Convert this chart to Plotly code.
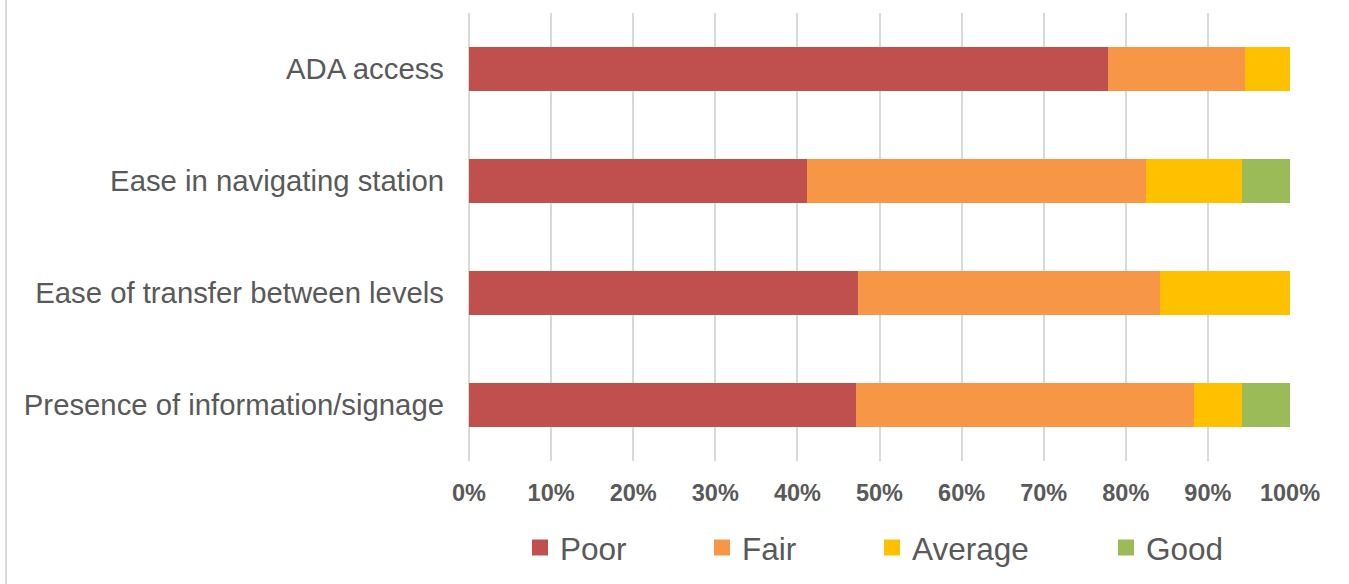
import plotly.graph_objects as go

categories = ["ADA access", "Ease in navigating station",
              "Ease of transfer between levels", "Presence of information/signage"]
poor = [77.8, 41.2, 47.4, 47.1]
fair = [16.7, 41.2, 36.8, 41.2]
average = [5.6, 11.8, 15.8, 5.9]
good = [0.0, 5.9, 0.0, 5.9]
x_ticks = [0, 10, 20, 30, 40, 50, 60, 70, 80, 90, 100]
x_tick_labels = [f"{v}%" for v in x_ticks]

series = [("Poor", poor, "#C0504D"), ("Fair", fair, "#F79646"),
          ("Average", average, "#FFC000"), ("Good", good, "#9BBB59")]

FONT = "Liberation Sans, Arial, sans-serif"
TXT = "#595959"
W, H = 1349, 584
L, R, T, B = 469, 59, 13, 123
PW, PH = W - L - R, H - T - B

def px_x(p):
    return (p - L) / PW

def px_y(p):
    return (H - B - p) / PH

fig = go.Figure()
legend_names = ["legend", "legend2", "legend3", "legend4"]
legend_text_x = [560, 742, 912, 1146]
for (name, vals, col), lg in zip(series, legend_names):
    fig.add_trace(go.Bar(y=categories, x=vals, name=name, orientation="h",
                         marker=dict(color=col, line=dict(width=0)),
                         width=0.4, showlegend=False))
    fig.add_trace(go.Scatter(x=[None], y=[None], mode="markers", name=name,
                             marker=dict(symbol="square", size=16, color=col),
                             legend=lg, showlegend=True))

layout_legends = {}
for lg, tx in zip(legend_names, legend_text_x):
    layout_legends[lg] = dict(x=(tx - 40) / W, y=(H - 547.5) / H,
                              xref="container", yref="container",
                              xanchor="left", yanchor="middle",
                              orientation="h", bgcolor="rgba(0,0,0,0)",
                              font=dict(family=FONT, size=31.5, color=TXT),
                              itemsizing="trace")

fig.update_layout(
    width=W, height=H,
    margin=dict(l=L, r=R, t=T, b=B, pad=0, autoexpand=False),
    barmode="stack", bargap=0.6,
    paper_bgcolor="white", plot_bgcolor="white",
    font=dict(family=FONT, color=TXT),
    xaxis=dict(range=[0, 100.001], tickvals=x_ticks, ticktext=x_tick_labels,
               showgrid=True, gridcolor="#D9D9D9", gridwidth=2,
               zeroline=True, zerolinecolor="#D9D9D9", zerolinewidth=2,
               showline=False, ticks="", ticklabelstandoff=15,
               tickfont=dict(family=FONT, size=23.5, color=TXT, weight="bold"),
               fixedrange=True),
    yaxis=dict(autorange="reversed", showgrid=False, zeroline=False, showline=False,
               ticks="", ticklabelstandoff=24,
               tickfont=dict(family=FONT, size=29.3, color=TXT), fixedrange=True),
    shapes=[dict(type="line", xref="paper", yref="paper",
                 x0=px_x(6), x1=px_x(6), y0=px_y(584), y1=px_y(0),
                 line=dict(color="#D9D9D9", width=2))],
    **layout_legends,
)

fig.write_html("out.html", config={"displayModeBar": False},
               post_script="document.body.style.margin='0';")
